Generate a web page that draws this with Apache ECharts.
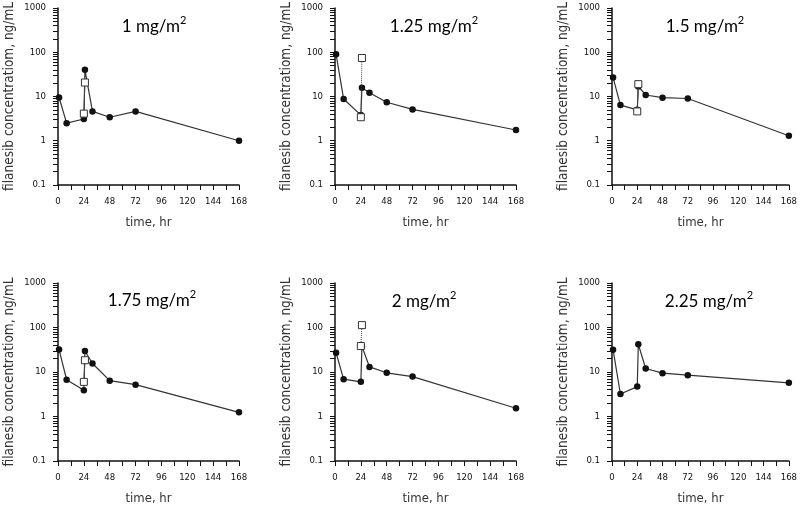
<!DOCTYPE html>
<html><head><meta charset="utf-8">
<script src="https://cdn.jsdelivr.net/npm/echarts@6/dist/echarts.min.js"></script>
<style>html,body{margin:0;padding:0;background:#fff}#c{width:800px;height:506px;background:#fff}</style>
</head><body><div id="c"></div>
<script>
// ---- data ----
const doseLabels = ['1', '1.25', '1.5', '1.75', '2', '2.25'];
const xTicks = [0, 24, 48, 72, 96, 120, 144, 168];
const yTicks = [0.1, 1, 10, 100, 1000];
const yMinorTicks = [0.2, 0.3, 0.4, 0.5, 0.6, 0.7, 0.8, 0.9,
  2, 3, 4, 5, 6, 7, 8, 9,
  20, 30, 40, 50, 60, 70, 80, 90,
  200, 300, 400, 500, 600, 700, 800, 900];
const circleTimes = [1, 8, 24, 25, 32, 48, 72, 168];
const conc_1 = [9.5, 2.5, 3.1, 40, 4.6, 3.4, 4.6, 1.0];
const conc_125 = [90, 8.8, 3.8, 15.7, 12.2, 7.4, 5.1, 1.75];
const conc_15 = [27, 6.4, 5.0, 16.9, 10.8, 9.4, 9.0, 1.3];
const conc_175 = [32, 6.7, 3.9, 29.7, 15.5, 6.4, 5.2, 1.24];
const conc_2 = [27, 6.9, 6.0, 38, 13, 9.6, 7.9, 1.53];
const conc_225 = [31.8, 3.2, 4.7, 42, 12, 9.4, 8.5, 5.7];
const squareTimes = [24, 25];
const sq_1 = [4.1, 20.7];
const sq_125 = [3.4, 74];
const sq_15 = [4.6, 19];
const sq_175 = [6.0, 18.4];
const sq_2 = [38.4, 113];
const sq_225 = [];

const circles = [conc_1, conc_125, conc_15, conc_175, conc_2, conc_225];
const squares = [sq_1, sq_125, sq_15, sq_175, sq_2, sq_225];
const squareDotted = [false, true, false, false, true, false];
const allYTicks = yTicks.concat(yMinorTicks).sort((a, b) => a - b);

// ---- layout ----
const grids = [
  {left: 58, top: 6, width: 181, height: 179},
  {left: 335, top: 6, width: 181, height: 179},
  {left: 612, top: 6, width: 180, height: 179},
  {left: 58, top: 283, width: 181, height: 179},
  {left: 335, top: 283, width: 181, height: 179},
  {left: 612, top: 283, width: 180, height: 179}
];
const titlePos = [[154, 25], [434, 25], [705, 25], [152, 299], [424, 300], [709, 300]];

const narrow = "'Liberation Sans Narrow', 'DejaVu Sans Condensed', sans-serif";
const yLabelFormatter = v => {
  const f = yTicks.find(t => Math.abs(t - v) / t < 1e-6);
  return f === undefined ? '' : String(f);
};
const xAxes = [], yAxes = [], series = [], graphics = [];
grids.forEach((g, i) => {
  xAxes.push({
    type: 'value', gridIndex: i, min: 0, max: 168, interval: 24,
    name: 'time, hr', nameLocation: 'middle', nameGap: 31,
    nameTextStyle: {fontFamily: narrow, fontSize: 13, color: '#333'},
    axisLine: {show: true, onZero: false, lineStyle: {color: '#111', width: 1.5}},
    axisTick: {show: true, length: 5, lineStyle: {color: '#111'}},
    minorTick: {show: true, splitNumber: 2, length: 5, lineStyle: {color: '#111'}},
    axisLabel: {fontFamily: narrow, fontSize: 9.5, color: '#111', margin: 12,
      formatter: v => xTicks.includes(v) ? String(v) : ''},
    splitLine: {show: false}
  });
  yAxes.push({
    type: 'log', gridIndex: i, logBase: 10, min: 0.1, max: 1000,
    name: 'filanesib concentratiom, ng/mL', nameLocation: 'middle', nameGap: 42,
    nameTextStyle: {fontFamily: narrow, fontSize: 13.5, color: '#333'},
    axisLine: {show: true, lineStyle: {color: '#111', width: 1.5}},
    axisTick: {show: true, length: 5, customValues: allYTicks, lineStyle: {color: '#111'}},
    axisLabel: {fontFamily: narrow, fontSize: 9.5, color: '#111', margin: 12,
      customValues: yTicks, formatter: yLabelFormatter},
    splitLine: {show: false}
  });
  series.push({
    type: 'line', xAxisIndex: i, yAxisIndex: i,
    data: circleTimes.map((t, k) => [t, circles[i][k]]),
    symbol: 'circle', symbolSize: 6.5,
    itemStyle: {color: '#111'},
    lineStyle: {color: '#333', width: 1.2},
    z: 3
  });
  if (squares[i].length) {
    series.push({
      type: 'line', xAxisIndex: i, yAxisIndex: i,
      data: squareTimes.map((t, k) => [t, squares[i][k]]),
      symbol: 'rect', symbolSize: 7, showAllSymbol: true,
      itemStyle: {color: '#fff', borderColor: '#333', borderWidth: 1},
      lineStyle: {color: '#444', width: 1, type: squareDotted[i] ? 'dotted' : 'solid'},
      z: 4
    });
  }
  graphics.push({
    type: 'text', x: titlePos[i][0], y: titlePos[i][1],
    style: {
      text: '{m|' + doseLabels[i] + ' mg/m}{s|2}',
      align: 'center', verticalAlign: 'middle',
      rich: {
        m: {fontFamily: 'Lato, sans-serif', fontSize: 17, color: '#111', lineHeight: 21, verticalAlign: 'bottom'},
        s: {fontFamily: 'Lato, sans-serif', fontSize: 11, color: '#111', lineHeight: 21, verticalAlign: 'top'}
      }
    }
  });
});

const chart = echarts.init(document.getElementById('c'));
chart.setOption({
  animation: false,
  grid: grids,
  xAxis: xAxes,
  yAxis: yAxes,
  series: series,
  graphic: graphics
});
</script></body></html>
